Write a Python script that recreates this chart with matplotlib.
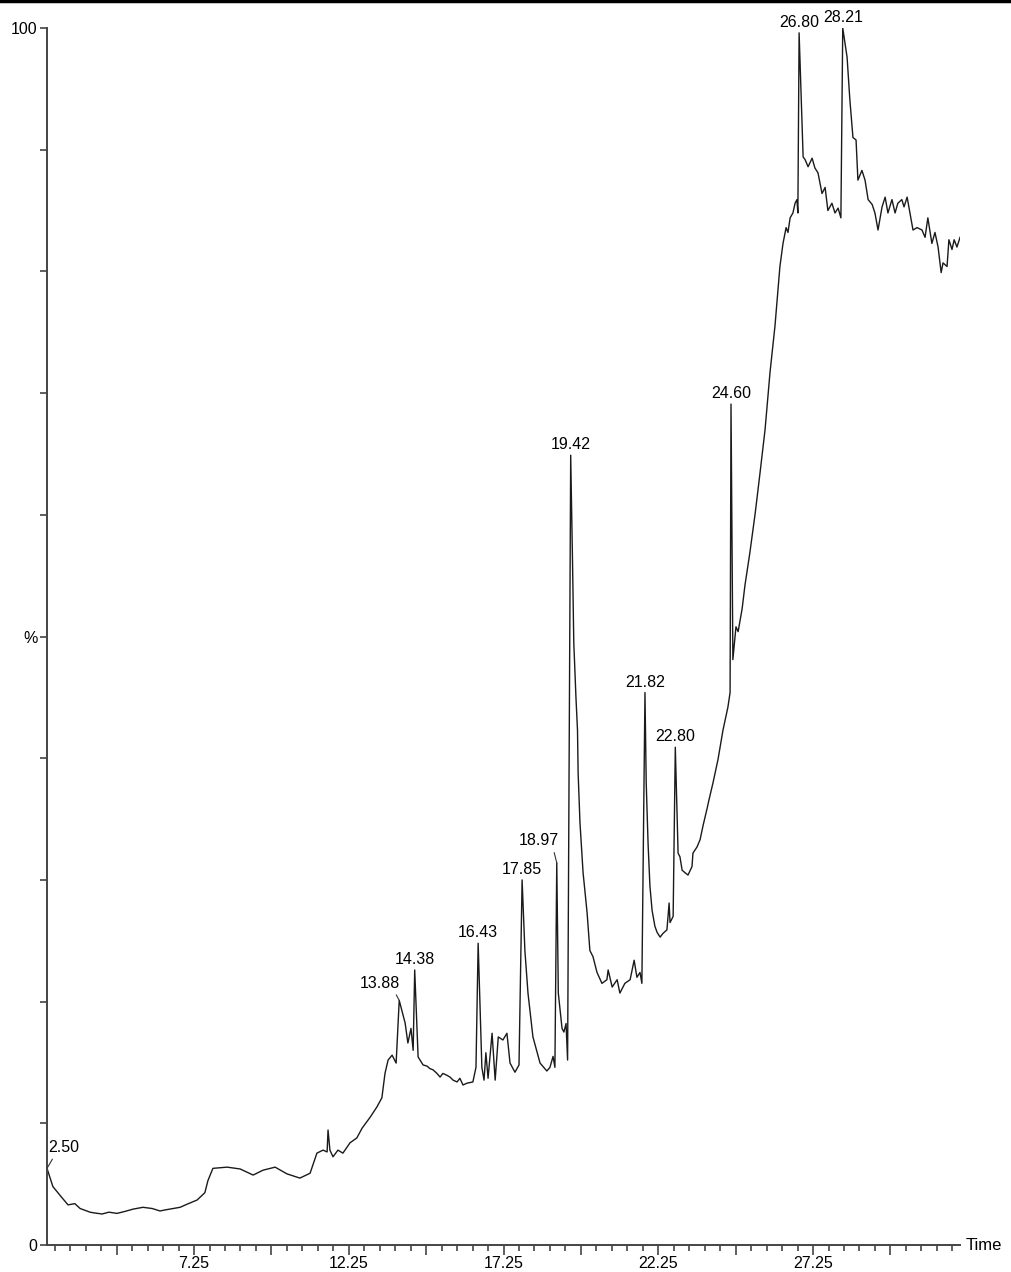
import numpy as np
import matplotlib
matplotlib.use("Agg")
import matplotlib.pyplot as plt
from matplotlib.lines import Line2D

plt.rcParams['font.family'] = ['Liberation Sans', 'DejaVu Sans']

# retention time (min) and relative intensity (%)
time = [
    2.50, 2.69, 2.98, 3.18, 3.40, 3.57, 3.89, 4.00, 4.28, 4.50, 4.76, 5.00, 5.28, 5.60,
    5.90, 6.15, 6.35, 6.57, 6.80, 7.02, 7.35, 7.60, 7.70, 7.86, 8.32, 8.74, 9.16, 9.48,
    9.87, 10.25, 10.67, 11.00, 11.22, 11.42, 11.55, 11.58, 11.64, 11.74, 11.90, 12.06,
    12.29, 12.51, 12.68, 12.94, 13.16, 13.32,
    13.42, 13.52, 13.65, 13.78, 13.88, 14.07, 14.16, 14.26, 14.33, 14.38, 14.49, 14.65,
    14.78, 14.87, 14.97, 15.10, 15.20, 15.29, 15.42, 15.52, 15.62, 15.75, 15.84, 15.94,
    16.07, 16.26, 16.36, 16.43, 16.55, 16.62, 16.68, 16.75, 16.88, 16.98, 17.08, 17.23,
    17.36, 17.46, 17.62, 17.75,
    17.85, 17.94, 18.04, 18.20, 18.43, 18.65, 18.75, 18.85, 18.91, 18.97, 19.02, 19.14,
    19.20, 19.27, 19.32, 19.42, 19.48, 19.52, 19.59, 19.62, 19.64, 19.66, 19.72, 19.82,
    19.95, 20.04, 20.14, 20.27, 20.43, 20.59, 20.63, 20.76, 20.92, 21.01, 21.17, 21.34,
    21.47, 21.56, 21.66, 21.72, 21.82,
    21.86, 21.92, 21.98, 22.05, 22.14, 22.21, 22.31, 22.40, 22.53, 22.60, 22.63, 22.73,
    22.80, 22.89, 22.95, 23.02, 23.11, 23.21, 23.34, 23.37, 23.50, 23.60, 23.70, 23.83,
    23.89, 24.02, 24.18, 24.34, 24.50, 24.57, 24.60,
    24.66, 24.76, 24.83, 24.96, 25.05, 25.21, 25.38, 25.54, 25.70, 25.86, 26.02,
    26.12, 26.18, 26.28, 26.38, 26.44, 26.51, 26.60, 26.67, 26.73, 26.76, 26.80, 26.93,
    26.99, 27.09, 27.22, 27.31, 27.41, 27.54, 27.64, 27.73, 27.86, 27.96, 28.06, 28.15,
    28.21, 28.35, 28.44, 28.54, 28.64, 28.70, 28.83, 28.93, 29.03, 29.16, 29.25, 29.35,
    29.48, 29.58, 29.67, 29.80, 29.90, 29.99, 30.12, 30.19, 30.29, 30.38, 30.48, 30.61,
    30.77, 30.87, 30.96, 31.09, 31.19, 31.29, 31.39, 31.45, 31.58, 31.64, 31.74, 31.81,
    31.90, 32.00,
]
intensity = [
    6.3, 4.8, 3.9, 3.3, 3.4, 3.0, 2.7, 2.65, 2.55, 2.7, 2.6, 2.75, 2.95, 3.1,
    3.0, 2.8, 2.9, 3.0, 3.1, 3.35, 3.7, 4.3, 5.3, 6.3, 6.4, 6.25, 5.75, 6.15,
    6.4, 5.85, 5.5, 5.9, 7.55, 7.8, 7.65, 9.45, 7.8, 7.25, 7.8, 7.55,
    8.4, 8.8, 9.6, 10.5, 11.35, 12.1,
    14.1, 15.2, 15.6, 14.95, 20.1, 18.25, 16.6, 17.8, 16.0, 22.6, 15.45, 14.8,
    14.7, 14.5, 14.4, 14.1, 13.8, 14.1, 13.95, 13.8, 13.55, 13.4, 13.7, 13.15,
    13.3, 13.4, 14.6, 24.8, 14.6, 13.55, 15.8, 13.7, 17.4, 13.55, 17.1, 16.85,
    17.4, 14.95, 14.2, 14.8,
    30.0, 24.2, 20.7, 17.1, 14.95, 14.3, 14.6, 15.5, 14.6, 31.4, 20.7, 17.8,
    17.5, 18.2, 15.2, 64.9, 56.0, 49.5, 45.0, 43.4, 42.3, 38.8, 34.7, 30.6,
    27.3, 24.2, 23.7, 22.4, 21.5, 21.8, 22.6, 21.2, 21.8, 20.7, 21.5, 21.8,
    23.4, 22.0, 22.4, 21.5, 45.4,
    38.0, 33.0, 29.5, 27.5, 26.2, 25.7, 25.3, 25.6, 25.9, 28.1, 26.5, 27.0,
    40.9, 32.2, 31.9, 30.8, 30.6, 30.4, 31.1, 32.2, 32.7, 33.3, 34.5, 35.9,
    36.6, 38.0, 39.9, 42.3, 44.2, 45.4, 69.1,
    48.1, 50.8, 50.4, 52.3, 54.2, 56.9, 60.1, 63.5, 67.0, 71.7, 75.5,
    78.5, 80.4, 82.3, 83.6, 83.2, 84.4, 84.8, 85.6, 85.9, 84.8, 99.6, 89.4,
    89.2, 88.6, 89.3, 88.5, 88.1, 86.4, 86.9, 85.0, 85.6, 84.8, 85.2, 84.4,
    100.0, 97.6, 94.1, 91.0, 90.8, 87.5, 88.3, 87.5, 85.9, 85.5, 84.8, 83.4,
    85.3, 86.1, 84.8, 85.9, 84.8, 85.6, 85.9, 85.3, 86.1, 84.8, 83.4, 83.6,
    83.4, 82.8, 84.4, 82.3, 83.2, 82.0, 79.9, 80.7, 80.4, 82.6, 81.8, 82.6,
    82.0, 82.8,
]

# labelled peaks
peak_times = [2.50, 13.88, 14.38, 16.43, 17.85, 18.97, 19.42, 21.82, 22.80, 24.60, 26.80, 28.21]
# labels that sit off to the side with a leader line: (time, intensity) of the label
offset_labels = {2.50: (3.05, 8.0), 13.88: (13.26, 21.5), 18.97: (18.40, 33.2)}

x_labels = ['7.25', '12.25', '17.25', '22.25', '27.25']

time = np.array(time)
intensity = np.array(intensity)

fig = plt.figure(figsize=(10.11, 12.72), dpi=100)
ax = fig.add_axes([0.0465, 0.0212, 0.9031, 0.9568])

ax.plot(time, intensity, color='#1a1a1a', lw=1.0)

ax.set_xlim(2.5, 32.0)
ax.set_ylim(0, 100)

for s in ['top', 'right']:
    ax.spines[s].set_visible(False)
for s in ['left', 'bottom']:
    ax.spines[s].set_color('#444444')
    ax.spines[s].set_linewidth(1.4)

major = np.arange(4.75, 32.0, 2.5)
minor = [m for m in np.arange(2.75, 32.0, 0.5) if not np.any(np.isclose(m, major))]
ax.set_xticks(major)
ax.set_xticklabels([l if l in x_labels else '' for l in ['%.2f' % v for v in major]])
ax.set_xticks(minor, minor=True)
ax.tick_params(axis='x', which='major', length=7, width=1.2, color='#444444',
               labelsize=11.5, pad=1)
ax.tick_params(axis='x', which='minor', length=4, width=1.2, color='#444444')

yt = np.arange(0, 101, 10)
ax.set_yticks(yt)
ax.set_yticklabels(['0', '', '', '', '', '%', '', '', '', '', '100'])
ax.tick_params(axis='y', length=5, width=1.2, color='#444444', labelsize=11.5, pad=2)

ax.text(1.006, 0, 'Time', transform=ax.transAxes, ha='left', va='center', fontsize=12)

for pt in peak_times:
    i = np.argmin(np.abs(time - pt))
    lab = '%.2f' % pt
    if pt in offset_labels:
        tx, ty = offset_labels[pt]
        rel = (0.2, 0.0) if pt < 5 else (0.85, 0.0)
        ax.annotate(lab, xy=(time[i], intensity[i]), xytext=(tx, ty),
                    ha='center', va='center', fontsize=11.5,
                    arrowprops=dict(arrowstyle='-', lw=0.8, color='#333333',
                                    relpos=rel, shrinkA=1, shrinkB=0))
    else:
        ax.annotate(lab, xy=(time[i], intensity[i]), xytext=(0, 2),
                    textcoords='offset points', ha='center', va='bottom', fontsize=11.5)

# dark rule along the top edge
fig.add_artist(Line2D([0, 1], [0.999, 0.999], color='black', lw=2.5))

fig.savefig('out.png', dpi=100)
